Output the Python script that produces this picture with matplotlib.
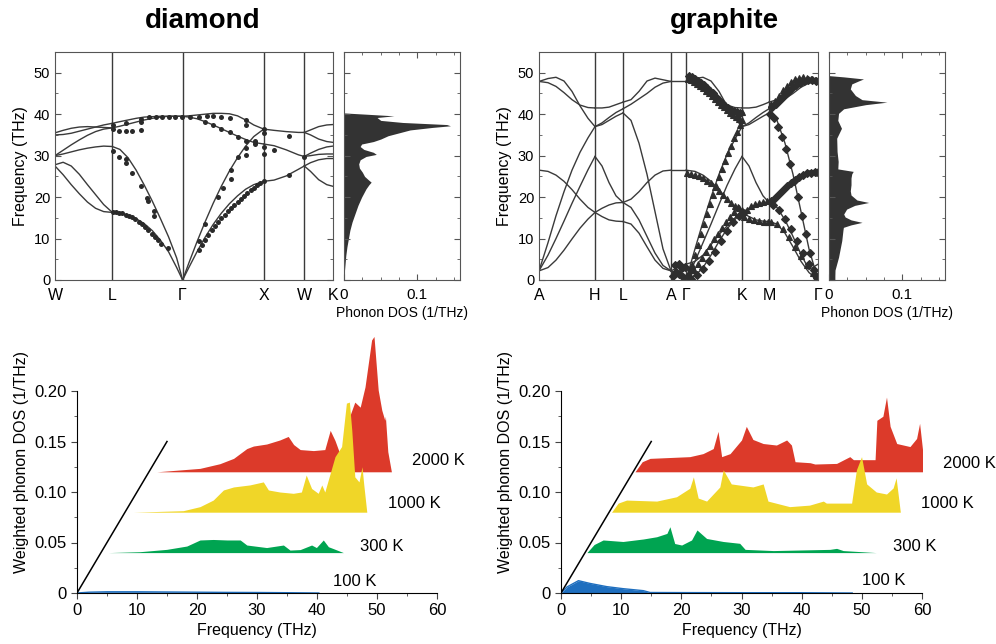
import matplotlib
matplotlib.use("Agg")
import matplotlib.pyplot as plt
from matplotlib.ticker import MultipleLocator, FixedLocator

plt.rcParams['font.family'] = ['Liberation Sans', 'DejaVu Sans']

LINE = '#3a3a3a'
FILL = '#333333'
COLORS = {'100 K': '#1f6fbf', '300 K': '#00a451', '1000 K': '#f0d628', '2000 K': '#dc3a2a'}

# ---------------- diamond dispersion ----------------
dia_sym_x = [0, 0.707, 1.573, 2.573, 3.073, 3.427]
dia_sym_lab = ['W', 'L', 'Γ', 'X', 'W', 'K']

dia_WL_x = [0, 0.1, 0.2, 0.3, 0.4, 0.5, 0.6, 0.707]
dia_WL = [
    [27.8, 28.4, 27.5, 25.5, 23.0, 20.6, 18.2, 16.3],
    [27.5, 25.4, 23.0, 20.8, 18.8, 17.3, 16.5, 16.3],
    [30.0, 30.4, 30.9, 31.4, 31.8, 32.1, 32.3, 32.2],
    [30.0, 31.3, 32.6, 33.8, 34.9, 35.8, 36.4, 36.7],
    [35.5, 36.1, 36.6, 36.9, 37.0, 36.9, 36.8, 36.7],
    [35.0, 35.1, 35.4, 35.9, 36.4, 36.9, 37.4, 37.8],
]
dia_LG_x = [0.707, 0.8, 0.9, 1.0, 1.1, 1.2, 1.3, 1.4, 1.5, 1.573]
dia_LG = [
    [16.3, 16.1, 15.6, 14.8, 13.6, 11.9, 9.6, 6.8, 3.0, 0.0],
    [32.2, 31.5, 29.5, 26.5, 22.9, 19.0, 14.8, 10.4, 5.3, 0.0],
    [36.7, 37.1, 37.6, 38.1, 38.6, 39.0, 39.3, 39.5, 39.5, 39.5],
    [37.8, 38.2, 38.6, 39.0, 39.3, 39.4, 39.5, 39.5, 39.5, 39.5],
]
dia_GX_x = [1.573, 1.65, 1.75, 1.85, 1.95, 2.05, 2.15, 2.25, 2.35, 2.45, 2.573]
dia_GX = [
    [0, 3.0, 6.8, 10.3, 13.4, 16.1, 18.4, 20.3, 21.9, 23.0, 23.8],
    [0, 4.1, 9.2, 14.0, 18.5, 22.6, 26.3, 29.5, 32.3, 34.6, 36.4],
    [39.5, 39.6, 39.8, 40.0, 40.2, 40.2, 40.1, 39.6, 38.6, 37.4, 36.4],
    [39.5, 39.3, 38.9, 38.2, 37.4, 36.5, 35.6, 34.7, 33.9, 33.2, 32.8],
]
dia_XW_x = [2.573, 2.7, 2.85, 3.0, 3.073]
dia_XW = [
    [23.8, 24.1, 25.1, 26.7, 27.5],
    [32.8, 32.4, 31.4, 30.2, 29.8],
    [36.4, 36.1, 35.8, 35.6, 35.6],
]
dia_WK_x = [3.073, 3.15, 3.25, 3.35, 3.427]
dia_WK = [
    [35.6, 36.2, 37.0, 37.4, 37.5],
    [35.6, 35.0, 34.0, 33.4, 33.2],
    [29.8, 30.6, 31.5, 32.1, 32.3],
    [29.8, 30.0, 30.3, 30.4, 30.4],
    [27.5, 28.3, 29.0, 29.3, 29.3],
    [27.5, 26.2, 24.2, 23.0, 22.6],
]

# diamond measured points
dia_exp_x = [0.71, 0.75, 0.79, 0.83, 0.87, 0.91, 0.95, 0.99, 1.03, 1.07, 1.11, 1.15, 1.19, 1.23, 1.27, 1.31, 1.39,
             0.71, 0.79, 0.87, 0.88, 0.955, 1.057, 1.138, 1.145, 1.22, 1.225,
             0.71, 0.71, 0.79, 0.87, 0.955, 1.057, 0.87, 1.057, 1.057, 1.16, 1.24, 1.32, 1.40, 1.48, 1.565,
             1.667, 1.77, 1.87, 1.95, 2.05, 2.155, 2.357, 2.357,
             1.85, 1.95, 2.05, 2.155, 2.256, 2.357, 2.46,
             2.573, 2.573, 2.573, 2.573, 2.573, 2.357, 2.46, 2.70, 2.886, 2.886, 3.073,
             1.77, 1.85, 2.01, 2.07, 2.167, 2.167, 2.256, 2.357, 2.46,
             1.77, 1.81, 1.85, 1.89, 1.93, 1.97, 2.01, 2.05, 2.09, 2.13, 2.17, 2.21, 2.25, 2.29, 2.33,
             2.37, 2.41, 2.45, 2.49, 2.53]
dia_exp_f = [16.4, 16.3, 16.2, 16.1, 15.8, 15.5, 15.1, 14.6, 14.1, 13.4, 12.7, 12.0, 11.2, 10.4, 9.6, 8.8, 7.8,
             31.0, 29.6, 29.1, 28.3, 25.8, 22.7, 19.9, 19.0, 16.7, 15.5,
             36.4, 37.4, 36.0, 36.0, 36.0, 36.2, 37.8, 38.2, 38.9, 39.2, 39.4, 39.4, 39.4, 39.4, 39.4,
             39.2, 39.2, 39.6, 39.6, 39.2, 39.0, 38.6, 37.5,
             38.2, 37.5, 36.4, 35.6, 34.6, 33.6, 32.7,
             35.4, 36.4, 32.2, 30.4, 23.8, 30.2, 33.4, 31.3, 34.8, 25.4, 29.6,
             9.5, 13.6, 20.0, 22.1, 26.6, 24.3, 29.6, 31.8, 33.6,
             7.2, 8.4, 9.7, 10.9, 12.0, 13.0, 14.0, 14.9, 15.8, 16.6, 17.4, 18.2, 18.9, 19.6, 20.3,
             20.9, 21.6, 22.2, 22.8, 23.3]

# diamond DOS
dia_dos_f = [0, 2, 4, 6, 8, 10, 12, 14, 16, 18, 20, 21, 22, 23.0, 23.6, 24.2, 25.0, 26.0, 27.0, 28.0, 29.0,
             29.8, 30.3, 30.8, 31.5, 32.2, 32.8, 33.4, 34.0, 34.8, 35.5, 36.2, 36.8, 37.2, 37.5, 38.0,
             38.5, 39.2, 39.6, 40.0, 40.3]
dia_dos = [0, 0.0005, 0.0015, 0.0025, 0.004, 0.006, 0.008, 0.011, 0.015, 0.019, 0.024, 0.027, 0.030, 0.034,
           0.037, 0.033, 0.028, 0.025, 0.021, 0.020, 0.022, 0.030, 0.044, 0.040, 0.027, 0.022, 0.024, 0.040,
           0.050, 0.060, 0.075, 0.090, 0.120, 0.145, 0.140, 0.080, 0.050, 0.045, 0.068, 0.030, 0]

# ---------------- graphite dispersion ----------------
gra_sym_x = [0, 56, 84, 132, 147, 203, 230, 279]
gra_sym_lab = ['A', 'H', 'L', 'A', 'Γ', 'K', 'M', 'Γ']

gra_AH_x = [0, 9, 17, 25, 33, 41, 49, 56]
gra_AH = [
    [47.9, 48.6, 48.9, 48.0, 45.5, 42.0, 39.0, 37.0],
    [47.9, 47.6, 46.7, 45.2, 43.5, 42.2, 41.6, 41.5],
    [26.5, 26.2, 25.3, 23.8, 21.8, 19.5, 17.5, 16.3],
    [2.2, 3.0, 4.8, 7.2, 9.9, 12.5, 14.7, 16.3],
    [2.2, 6.0, 10.0, 14.2, 18.5, 22.6, 26.6, 29.8],
    [2.2, 9.0, 15.5, 21.3, 26.5, 30.8, 34.3, 37.0],
]
gra_HL_x = [56, 63, 70, 77, 84]
gra_HL = [
    [41.5, 41.5, 41.7, 42.3, 42.9],
    [37.0, 37.9, 39.2, 40.4, 41.3],
    [37.0, 37.5, 38.5, 39.5, 40.3],
    [29.8, 27.5, 23.5, 20.3, 18.7],
    [16.3, 17.3, 18.1, 18.6, 18.7],
    [16.3, 15.3, 14.5, 14.2, 14.1],
]
gra_LA_x = [84, 92, 100, 108, 116, 124, 132]
gra_LA = [
    [42.9, 43.5, 45.5, 48.0, 48.7, 48.3, 47.9],
    [41.3, 42.4, 43.7, 45.0, 46.5, 47.5, 47.9],
    [40.3, 38.5, 33.0, 25.5, 16.5, 7.5, 2.2],
    [18.7, 19.5, 21.3, 23.5, 25.3, 26.3, 26.5],
    [14.1, 13.5, 11.3, 8.0, 4.8, 2.8, 2.2],
    [18.7, 17.5, 14.5, 10.5, 6.5, 3.5, 2.2],
]
gra_AG_x = [132, 137, 142, 147]
gra_AG = [
    [47.9, 47.9, 47.9, 47.9],
    [26.5, 26.5, 26.5, 26.5],
    [2.2, 1.6, 0.8, 0.0],
    [2.2, 2.8, 3.4, 3.8],
]
gra_GK_x = [147, 156, 164, 172, 180, 188, 196, 203]
gra_GK = [
    [47.9, 48.6, 48.9, 48.0, 45.5, 42.0, 39.0, 37.0],
    [47.9, 47.6, 46.7, 45.2, 43.5, 42.2, 41.6, 41.5],
    [26.5, 26.2, 25.3, 23.8, 21.8, 19.5, 17.5, 16.3],
    [0.0, 1.0, 3.0, 6.0, 9.3, 12.3, 14.6, 16.3],
    [0.0, 4.5, 9.0, 13.5, 18.2, 22.8, 26.8, 29.8],
    [0.0, 7.5, 14.0, 20.0, 25.5, 30.3, 34.0, 37.0],
    [3.8, 4.5, 6.0, 8.5, 11.0, 13.0, 15.0, 16.3],
]
gra_KM_x = [203, 210, 217, 224, 230]
gra_KM = [
    [41.5, 41.5, 41.7, 42.3, 42.9],
    [37.0, 37.9, 39.2, 40.4, 41.3],
    [37.0, 37.5, 38.5, 39.5, 40.3],
    [29.8, 27.5, 23.5, 20.3, 18.7],
    [16.3, 17.3, 18.1, 18.6, 18.7],
    [16.3, 15.3, 14.5, 14.2, 14.1],
]
gra_MG_x = [230, 238, 246, 254, 262, 270, 279]
gra_MG = [
    [42.9, 43.5, 45.5, 48.0, 48.7, 48.3, 47.9],
    [41.3, 42.4, 43.7, 45.0, 46.5, 47.5, 47.9],
    [40.3, 38.5, 33.0, 25.5, 16.5, 7.5, 0.0],
    [18.7, 19.5, 21.3, 23.5, 25.3, 26.3, 26.5],
    [14.1, 13.5, 11.3, 8.0, 4.5, 1.8, 0.0],
    [18.7, 17.5, 14.5, 10.5, 6.2, 2.5, 3.8],
]

# graphite measured points (clusters)
gra_exp = [
    ([149, 152, 155, 158, 161, 164, 167, 170, 173, 176, 179, 182, 185, 188, 191, 194, 197, 200, 203],
     [48.5, 48.2, 47.8, 47.3, 46.8, 46.2, 45.6, 45.0, 44.3, 43.6, 43.0, 42.3, 41.7, 41.0, 40.4, 39.8, 39.3, 38.8, 38.5]),
    ([150, 153, 156, 159, 162, 165, 168, 171, 174, 177, 180, 183, 186, 189, 192, 195, 198, 201],
     [49.2, 48.9, 48.5, 48.1, 47.6, 47.0, 46.4, 45.7, 45.0, 44.2, 43.4, 42.7, 42.0, 41.5, 41.1, 40.8, 40.5, 40.2]),
    ([232, 236, 240, 244, 248, 252, 256, 260, 264, 268, 272, 276, 279],
     [42.5, 43.3, 44.5, 45.8, 46.9, 47.8, 48.4, 48.8, 48.9, 48.8, 48.5, 48.2, 48.0]),
    ([233, 237, 241, 245, 249, 253, 257, 261, 265, 269, 273, 277],
     [41.8, 42.5, 43.4, 44.4, 45.4, 46.3, 47.0, 47.6, 48.0, 48.2, 48.2, 48.0]),
    ([150, 153, 156, 159, 162, 165, 168, 171, 174, 177, 180, 183, 186, 189, 192, 195, 198, 201, 199, 203],
     [1.5, 3.5, 6.0, 8.5, 11.0, 13.5, 16.0, 18.3, 20.5, 22.7, 24.8, 26.8, 28.7, 30.6, 32.4, 34.2, 35.8, 37.3, 39.5, 40.5]),
    ([231, 235, 239, 243, 247, 251, 255, 259, 263, 267, 271, 275, 278],
     [40.0, 39.0, 37.0, 34.5, 31.5, 28.0, 24.0, 20.0, 15.5, 11.0, 6.5, 2.5, 0.5]),
    ([148, 152, 156, 160, 164, 168, 172, 176, 180, 184, 188, 192, 196, 200, 203],
     [25.8, 25.6, 25.3, 25.0, 24.6, 24.0, 23.3, 22.5, 21.5, 20.5, 19.5, 18.6, 17.9, 17.3, 17.0]),
    ([232, 236, 240, 244, 248, 252, 256, 260, 264, 268, 272, 276, 279],
     [19.0, 19.8, 20.8, 21.8, 22.7, 23.5, 24.2, 24.8, 25.3, 25.7, 25.9, 26.0, 26.0]),
    ([151, 155, 159, 163, 167, 171, 175, 179, 183, 187, 191, 195, 199],
     [0.8, 2.3, 3.8, 5.3, 6.8, 8.3, 9.8, 11.2, 12.6, 14.0, 15.3, 16.5, 17.5]),
    ([152, 158, 164, 170, 176, 182, 188, 194, 200],
     [0.3, 1.2, 2.6, 4.5, 6.8, 9.3, 11.8, 14.0, 15.5]),
    ([232, 238, 244, 250, 256, 262, 268, 274, 278],
     [14.0, 13.6, 12.3, 10.3, 8.0, 5.8, 3.5, 1.6, 0.5]),
    ([234, 240, 246, 252, 258, 264, 270, 276],
     [18.0, 16.8, 14.8, 12.3, 9.5, 6.5, 3.8, 1.2]),
    ([205, 208, 212, 216, 220, 224, 228, 205, 210, 215, 220, 225, 229],
     [16.5, 17.0, 17.8, 18.3, 18.6, 18.8, 19.0, 15.3, 14.8, 14.4, 14.2, 14.1, 14.0]),
    ([134, 137, 140, 143, 146, 149, 152, 136, 140, 144],
     [1.0, 2.0, 1.5, 2.8, 3.2, 1.0, 2.5, 3.5, 3.8, 0.8]),
]

# graphite DOS
gra_dos_f = [0, 1, 2.4, 5.5, 9.5, 12.0, 12.7, 13.3, 13.9, 14.5, 15.2, 15.9, 17.1, 18.0, 18.7, 19.3, 20.5,
             21.5, 23.0, 24.6, 25.6, 26.2, 26.8, 28.6, 31.0, 34.2, 36.6, 38.5, 40.2, 41.3, 42.3, 42.9, 43.5,
             44.5, 46.1, 47.3, 48.0, 48.5, 49.0, 49.3]
gra_dos = [0.008, 0.008, 0.0082, 0.013, 0.0174, 0.019, 0.0196, 0.030, 0.045, 0.030, 0.022, 0.020, 0.024,
           0.035, 0.054, 0.038, 0.030, 0.029, 0.030, 0.030, 0.031, 0.033, 0.012, 0.0125, 0.011, 0.0105,
           0.017, 0.012, 0.013, 0.020, 0.050, 0.079, 0.045, 0.036, 0.029, 0.031, 0.040, 0.047, 0.020, 0]

# ---------------- weighted DOS (frequency, value above its baseline) ----------------
temps = ['100 K', '300 K', '1000 K', '2000 K']

dia_w = {
    '100 K': ([0, 2, 5, 10, 15, 20, 25, 30, 35, 40.3],
              [0, 0.0008, 0.0012, 0.0012, 0.0010, 0.0008, 0.0006, 0.0005, 0.0003, 0]),
    '300 K': ([1.2, 6.5, 10.95, 14.3, 16.5, 18.7, 21.0, 23.2, 24.3, 27.6, 30.4, 31.5, 33.2, 35.1, 35.9,
               37.05, 37.9, 38.7, 40.4],
              [0, 0.0009, 0.0032, 0.0065, 0.0125, 0.013, 0.0125, 0.0125, 0.0075, 0.005, 0.0075, 0.0025,
               0.003, 0.0075, 0.005, 0.0125, 0.0058, 0.004, 0]),
    '1000 K': ([1.4, 9.7, 12.5, 14.7, 16.4, 18.1, 20.8, 23.05, 23.9, 25.8, 28.05, 29.4, 30.2, 31.1, 32.2,
                32.8, 33.3, 34.2, 35.0, 36.1, 36.9, 37.4, 37.8, 38.3, 39.0, 39.5, 39.8, 40.3],
               [0, 0.0015, 0.0055, 0.012, 0.022, 0.025, 0.027, 0.030, 0.022, 0.020, 0.0187, 0.020, 0.0368,
                0.0235, 0.0187, 0.027, 0.020, 0.0385, 0.055, 0.065, 0.108, 0.109, 0.081, 0.035, 0.030,
                0.045, 0.027, 0]),
    '2000 K': ([1.3, 8.5, 11.8, 14.1, 16.3, 17.4, 19.6, 21.8, 23.2, 24.1, 25.2, 27.4, 29.3, 30.2, 31.0,
                31.8, 32.6, 33.2, 34.3, 35.2, 36.0, 37.1, 37.5, 38.2, 38.8, 39.3, 39.4, 39.8, 40.4],
               [0, 0.0034, 0.008, 0.0133, 0.023, 0.0255, 0.0275, 0.0315, 0.035, 0.027, 0.022, 0.021, 0.022,
                0.041, 0.031, 0.018, 0.020, 0.051, 0.069, 0.064, 0.084, 0.1305, 0.134, 0.081, 0.061,
                0.051, 0.055, 0.020, 0]),
}
gra_w = {
    '100 K': ([0, 1.0, 2.9, 4.8, 7.6, 10.3, 13.7, 14.8, 20, 30, 40, 48.4],
              [0, 0.006, 0.0122, 0.0095, 0.0063, 0.0043, 0.0023, 0.0005, 0.0004, 0.0003, 0.0003, 0]),
    '300 K': ([0.3, 1.5, 3.0, 6.3, 9.7, 11.9, 13.6, 14.1, 14.9, 16.05, 17.7, 18.6, 20.2, 22.96, 25.7,
               26.6, 31.3, 40.7, 41.8, 42.9, 48.4],
              [0, 0.008, 0.0125, 0.011, 0.0135, 0.0157, 0.019, 0.0256, 0.009, 0.0075, 0.0125, 0.0224,
               0.014, 0.011, 0.0092, 0.0032, 0.002, 0.0032, 0.0042, 0.002, 0]),
    '1000 K': ([0.4, 1.5, 2.9, 7.9, 11.2, 13.4, 14.0, 14.8, 16.2, 18.4, 18.96, 20.3, 23.9, 25.6, 26.4,
                30.0, 33.3, 35.6, 36.1, 40.3, 41.1, 41.95, 42.8, 44.4, 46.1, 47.2, 47.7, 48.4],
               [0, 0.009, 0.012, 0.011, 0.0153, 0.0237, 0.035, 0.014, 0.011, 0.025, 0.042, 0.028, 0.025,
                0.028, 0.011, 0.0055, 0.007, 0.011, 0.009, 0.009, 0.042, 0.055, 0.028, 0.020, 0.018,
                0.024, 0.034, 0]),
    '2000 K': ([0.3, 1.5, 2.8, 9.4, 11.6, 13.3, 14.1, 14.7, 16.1, 18.0, 18.8, 19.9, 21.6, 23.8, 25.5,
                26.3, 26.9, 29.4, 30.2, 33.8, 36.0, 36.6, 40.2, 40.5, 41.5, 42.1, 42.7, 43.8, 46.0, 47.1,
                47.6, 48.5],
               [0, 0.010, 0.0133, 0.015, 0.018, 0.023, 0.040, 0.015, 0.018, 0.0315, 0.045, 0.032, 0.028,
                0.0265, 0.0315, 0.0265, 0.010, 0.009, 0.0077, 0.0083, 0.015, 0.012, 0.012, 0.051, 0.055,
                0.074, 0.045, 0.028, 0.025, 0.033, 0.048, 0]),
}
# waterfall layout: baseline and frequency shift for each temperature
base = {'100 K': 0.0, '300 K': 0.04, '1000 K': 0.08, '2000 K': 0.12}
shift = {'100 K': 0, '300 K': 4, '1000 K': 8, '2000 K': 12}
dia_lab_pos = {'100 K': (42.7, 0.011), '300 K': (47.2, 0.0465), '1000 K': (51.9, 0.089), '2000 K': (55.8, 0.131)}
gra_lab_pos = {'100 K': (50.0, 0.012), '300 K': (55.2, 0.0465), '1000 K': (59.8, 0.089), '2000 K': (63.5, 0.128)}

W, H = 996, 644
fig = plt.figure(figsize=(W / 100, H / 100), dpi=100)


def rect(l, r, t, b):
    return [l / W, 1 - b / H, (r - l) / W, (b - t) / H]


def band_axes(r, sym_x, sym_lab, segments):
    ax = fig.add_axes(r)
    for xs, branches in segments:
        for fb in branches:
            ax.plot(xs, fb, color=LINE, lw=1.0)
    for x in sym_x[1:-1]:
        ax.axvline(x, color=LINE, lw=1.0)
    ax.set_xlim(sym_x[0], sym_x[-1])
    ax.set_ylim(0, 55)
    ax.set_xticks(sym_x)
    ax.set_xticklabels(sym_lab, fontsize=11.5)
    ax.tick_params(axis='x', length=0, pad=6)
    ax.yaxis.set_major_locator(MultipleLocator(10))
    ax.yaxis.set_minor_locator(MultipleLocator(5))
    ax.tick_params(axis='y', which='both', direction='in', left=True, right=True, labelsize=10.5,
                   color='#555555')
    ax.tick_params(axis='y', which='major', length=4)
    ax.tick_params(axis='y', which='minor', length=2.5)
    ax.set_ylabel('Frequency (THz)', fontsize=11.5, labelpad=4)
    for s in ax.spines.values():
        s.set_color('#555555')
    return ax


def dos_axes(r, f, d):
    ax = fig.add_axes(r)
    ax.fill_betweenx(f, 0, d, color=FILL, lw=0)
    ax.set_xlim(0, 0.158)
    ax.set_ylim(0, 55)
    ax.xaxis.set_major_locator(FixedLocator([0, 0.1]))
    ax.xaxis.set_minor_locator(MultipleLocator(0.025))
    ax.set_xticklabels(['0', '0.1'])
    ax.yaxis.set_major_locator(MultipleLocator(10))
    ax.yaxis.set_minor_locator(MultipleLocator(5))
    ax.tick_params(which='both', direction='in', top=True, bottom=True, left=True, right=True,
                   labelleft=False, labelsize=11, color='#555555')
    ax.tick_params(which='major', length=4)
    ax.tick_params(which='minor', length=2.5)
    ax.tick_params(axis='x', pad=6)
    ax.set_xlabel('Phonon DOS (1/THz)', fontsize=10, labelpad=3)
    for s in ax.spines.values():
        s.set_color('#555555')
    return ax


def weighted_axes(r, data, lab_pos):
    ax = fig.add_axes(r)
    for t in reversed(temps):
        f, v = data[t]
        fx = [x + shift[t] for x in f]
        top = [base[t] + y for y in v]
        ax.fill_between(fx, base[t], top, color=COLORS[t], lw=0)
        if t == '100 K':
            ax.plot(fx, top, color=COLORS[t], lw=1.0)
        ax.text(lab_pos[t][0], lab_pos[t][1], t, fontsize=12, ha='left', va='center')
    ax.plot([0, 15], [0, 0.15], color='black', lw=1.1)
    ax.set_xlim(0, 60)
    ax.set_ylim(0, 0.26)
    for s in ['top', 'right']:
        ax.spines[s].set_visible(False)
    ax.spines['left'].set_bounds(0, 0.2)
    ax.set_xticks(range(0, 61, 10))
    ax.xaxis.set_minor_locator(MultipleLocator(5))
    ax.set_yticks([0, 0.05, 0.10, 0.15, 0.20])
    ax.set_yticklabels(['0', '0.05', '0.10', '0.15', '0.20'])
    ax.yaxis.set_minor_locator(FixedLocator([0.025, 0.075, 0.125, 0.175]))
    ax.tick_params(which='both', labelsize=12, color='#444444')
    ax.tick_params(which='major', length=4)
    ax.tick_params(which='minor', length=2.5)
    ax.set_xlabel('Frequency (THz)', fontsize=11.5, labelpad=3)
    ax.set_ylabel('Weighted phonon DOS (1/THz)', fontsize=11.5, labelpad=4)
    return ax


dia_segments = [(dia_WL_x, dia_WL), (dia_LG_x, dia_LG), (dia_GX_x, dia_GX), (dia_XW_x, dia_XW),
                (dia_WK_x, dia_WK)]
ax1 = band_axes(rect(55, 333, 52, 280), dia_sym_x, dia_sym_lab, dia_segments)
ax1.plot(dia_exp_x, dia_exp_f, 'o', color='#2a2a2a', ms=3.6, mew=0)
dos_axes(rect(344, 460, 52, 280), dia_dos_f, dia_dos)

gra_segments = [(gra_AH_x, gra_AH), (gra_HL_x, gra_HL), (gra_LA_x, gra_LA), (gra_AG_x, gra_AG),
                (gra_GK_x, gra_GK), (gra_KM_x, gra_KM), (gra_MG_x, gra_MG)]
ax3 = band_axes(rect(539, 818, 52, 280), gra_sym_x, gra_sym_lab, gra_segments)
for i, (xs, fs) in enumerate(gra_exp):
    ax3.plot(xs, fs, '^' if i % 2 == 0 else 'D', color='#2e2e2e', ms=5.0 if i % 2 == 0 else 4.0,
             mew=0.8, mec='#2e2e2e', ls='none')
dos_axes(rect(829, 945, 52, 280), gra_dos_f, gra_dos)

weighted_axes(rect(77, 437, 330.4, 593), dia_w, dia_lab_pos)
weighted_axes(rect(561, 922, 330.4, 593), gra_w, gra_lab_pos)

fig.text(203 / W, 1 - 28 / H, 'diamond', fontsize=20, fontweight='bold', ha='center', va='baseline')
fig.text(724 / W, 1 - 28 / H, 'graphite', fontsize=20, fontweight='bold', ha='center', va='baseline')

fig.savefig('out.png', dpi=100)
